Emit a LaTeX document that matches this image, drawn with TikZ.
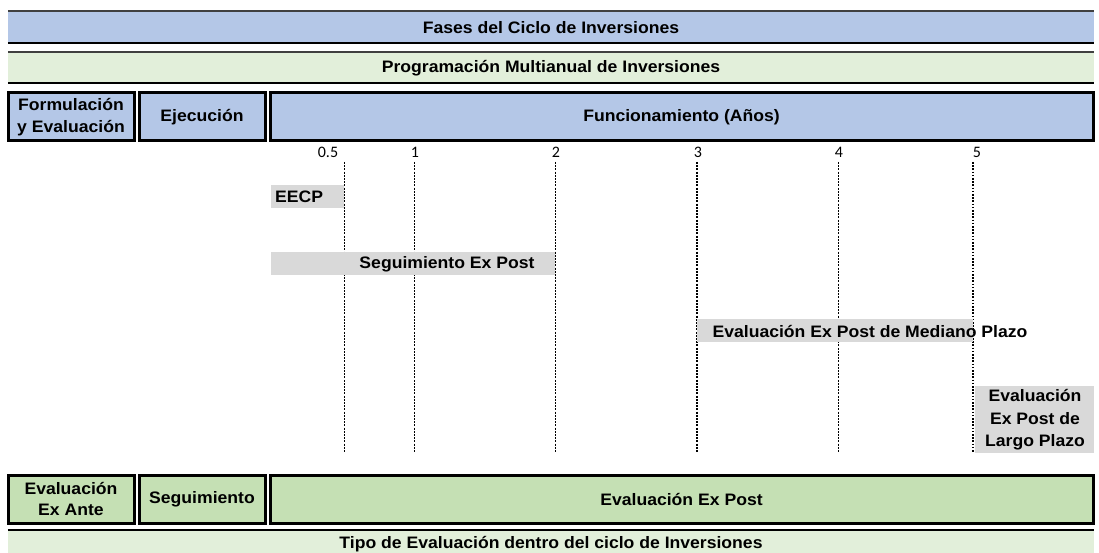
\documentclass[tikz,border=0pt]{standalone}
\usepackage{fontspec}
\setmainfont{Liberation Sans}[FakeStretch=1.06]
\newfontfamily\tickfont{Carlito}
\definecolor{phaseblue}{HTML}{B4C7E7}
\definecolor{palegreen}{HTML}{E2EFDA}
\definecolor{evalgreen}{HTML}{C5E0B4}
\definecolor{bargray}{HTML}{D9D9D9}
\definecolor{edgegray}{HTML}{404040}
\newcommand{\lblfont}{\fontsize{16.6}{21.5}\selectfont\bfseries}
\tikzset{
  band/.style={inner sep=0pt, minimum width=1086pt, minimum height=#1, anchor=center},
  bandtop/.style={draw=edgegray, line width=1.5pt},
  bandbot/.style={draw=black, line width=2.6pt},
  phasebox/.style={draw=black, line width=3pt, fill=phaseblue, inner sep=0pt, minimum height=48pt, align=center, font=\lblfont},
  evalbox/.style={draw=black, line width=3pt, fill=evalgreen, inner sep=0pt, minimum height=48pt, align=center, font=\lblfont},
  lbl/.style={font=\lblfont, align=center, inner sep=0pt},
  tick/.style={font=\tickfont\fontsize{16}{19}\selectfont, inner sep=0pt},
  vline/.style={draw=black, line width=0.8pt, dash pattern=on 2pt off 1.2pt},
  vlinedot/.style={draw=black, line width=1.4pt, dash pattern=on 1.6pt off 1.6pt},
  graybox/.style={fill=bargray, inner sep=0pt}
}
\begin{document}
\begin{tikzpicture}[x=1pt,y=-1pt]
\useasboundingbox (0,0) rectangle (1099,553);
\clip (0,0) rectangle (1099,553);

% top band
\node[band=32pt, fill=phaseblue] (fases) at (551,27) {};
\draw[bandtop] (fases.north west) -- (fases.north east);
\draw[bandbot] (fases.south west) -- (fases.south east);
\node[lbl] (fasestxt) at (551,28) {Fases del Ciclo de Inversiones};

% programacion band
\node[band=31pt, fill=palegreen] (prog) at (551,67.5) {};
\draw[bandtop] (prog.north west) -- (prog.north east);
\draw[bandbot] (prog.south west) -- (prog.south east);
\node[lbl] (progtxt) at (551,68.5) {Programación Multianual de Inversiones};

% phase boxes
\node[phasebox, minimum width=126pt] (form) at (71,117) {Formulación\\y Evaluación};
\node[phasebox, minimum width=126pt] (ejec) at (202,117) {Ejecución};
\node[phasebox, minimum width=823pt] (func) at (681.5,117) {Funcionamiento (Años)};

% tick labels
\node[tick] (t05) at (328,152) {0.5};
\node[tick] (t1) at (415,152) {1};
\node[tick] (t2) at (556,152) {2};
\node[tick] (t3) at (698,152) {3};
\node[tick] (t4) at (839,152) {4};
\node[tick] (t5) at (977,152) {5};

% vertical lines
\coordinate (a05) at (344,162); \coordinate (b05) at (344,453);
\coordinate (a1) at (414,162);  \coordinate (b1) at (414,453);
\coordinate (a2) at (555,162);  \coordinate (b2) at (555,453);
\coordinate (a3) at (697,162);  \coordinate (b3) at (697,453);
\coordinate (a4) at (838,162);  \coordinate (b4) at (838,453);
\coordinate (a5) at (973,162);  \coordinate (b5) at (973,453);
\draw[vline] (a05) -- (b05);
\draw[vline] (a1) -- (b1);
\draw[vline] (a2) -- (b2);
\draw[vline, line width=1.3pt] (a3) -- (b3);
\draw[vline] (a4) -- (b4);
\draw[vlinedot] (a5) -- (b5);

% gray bars
\node[graybox, minimum width=73pt, minimum height=23pt] (eecp) at (307.5,196.5) {};
\node[lbl, anchor=west] (eecptxt) at (275,197) {EECP};
\node[graybox, minimum width=284pt, minimum height=23pt] (seg) at (413,263.5) {};
\node[lbl] (segtxt) at (447,264) {Seguimiento Ex Post};
\node[graybox, minimum width=276pt, minimum height=23pt] (med) at (835,330.5) {};
\node[lbl] (medtxt) at (870,331) {Evaluación Ex Post de Mediano Plazo};
\node[graybox, minimum width=119pt, minimum height=67pt] (largo) at (1034.5,419.5) {};
\node[lbl, font=\fontsize{16.6}{22.5}\selectfont\bfseries] (largotxt) at (1035,420) {Evaluación\\Ex Post de\\Largo Plazo};

% evaluation boxes
\node[evalbox, minimum width=126pt] (exante) at (71,499) {Evaluación\\Ex Ante};
\node[evalbox, minimum width=126pt] (seguim) at (202,499) {Seguimiento};
\node[evalbox, minimum width=823pt] (expost) at (681.5,499) {Evaluación Ex Post};

% bottom band
\node[band=30pt, fill=palegreen] (tipo) at (551,545) {};
\draw[bandbot] (tipo.north west) -- (tipo.north east);
\node[lbl] (tipotxt) at (551,544.5) {Tipo de Evaluación dentro del ciclo de Inversiones};
\end{tikzpicture}
\end{document}
